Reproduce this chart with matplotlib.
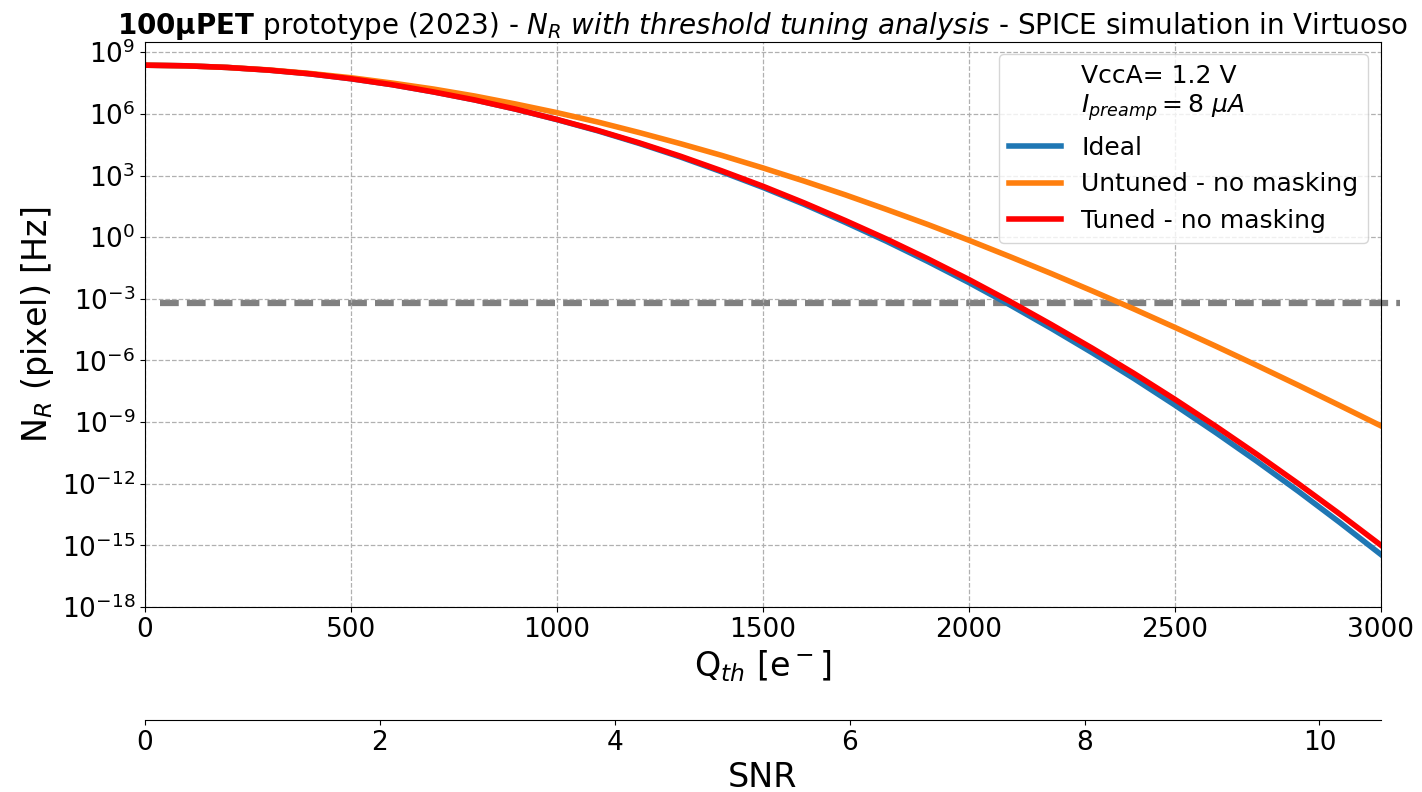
import numpy as np
import matplotlib
matplotlib.use("Agg")
import matplotlib.pyplot as plt

# Threshold charge [e-]
q_th = [0, 100, 200, 300, 400, 500, 600, 700, 800, 900, 1000, 1100, 1200, 1300,
        1400, 1500, 1600, 1700, 1800, 1900, 2000, 2100, 2200, 2300, 2400, 2500,
        2600, 2700, 2800, 2900, 3000]

# log10 of noise rate [Hz]
ideal_log10 = [8.37, 8.34, 8.26, 8.13, 7.95, 7.71, 7.42, 7.07, 6.68, 6.23, 5.72,
               5.17, 4.56, 3.90, 3.18, 2.42, 1.60, 0.72, -0.20, -1.18, -2.21,
               -3.30, -4.44, -5.63, -6.87, -8.17, -9.52, -10.92, -12.37, -13.88, -15.44]
untuned_log10 = [8.37, 8.34, 8.26, 8.14, 7.97, 7.76, 7.50, 7.21, 6.87, 6.48, 6.06,
                 5.60, 5.09, 4.55, 3.98, 3.37, 2.73, 2.06, 1.35, 0.62, -0.15,
                 -0.95, -1.77, -2.62, -3.49, -4.39, -5.31, -6.25, -7.21, -8.19, -9.18]
tuned_log10 = [8.37, 8.34, 8.26, 8.13, 7.95, 7.71, 7.42, 7.07, 6.68, 6.23, 5.73,
               5.19, 4.59, 3.94, 3.23, 2.48, 1.67, 0.81, -0.09, -1.05, -2.06,
               -3.13, -4.25, -5.41, -6.62, -7.89, -9.21, -10.58, -12.00, -13.47, -14.99]

threshold_rate = 6e-4      # Hz, dashed reference line
threshold_span = [36, 3046]
noise_enc = 285.1          # e-, for SNR axis

series_labels = ["Ideal", "Untuned - no masking", "Tuned - no masking"]
series_colors = ["#1f77b4", "#ff7f0e", "#ff0000"]
info_label = "VccA= 1.2 V\n" + r"$I_{preamp} = 8\ \mu A$"

fig = plt.figure(figsize=(14.22, 7.92), dpi=100)
ax = fig.add_axes([0.102, 0.2336, 0.869, 0.7134])

q = np.array(q_th)
ax.plot([], [], ' ', label=info_label)
for vals, lab, col in zip([ideal_log10, untuned_log10, tuned_log10], series_labels, series_colors):
    ax.plot(q, 10.0 ** np.array(vals), color=col, lw=4, label=lab)

ax.plot(threshold_span, [threshold_rate, threshold_rate], color="gray", lw=4.5,
        ls=(0, (3.0, 1.3)), clip_on=False, zorder=1)

ax.set_yscale("log")
ax.set_xlim(0, 3000)
ax.set_ylim(1e-18, 10 ** 9.5)
ax.set_yticks([10.0 ** e for e in range(-18, 10, 3)])
ax.yaxis.set_minor_locator(matplotlib.ticker.NullLocator())
ax.set_xticks([0, 500, 1000, 1500, 2000, 2500, 3000])
ax.tick_params(labelsize=19)
ax.grid(True, which="major", ls="--", color="#b0b0b0", lw=0.9)

ax.set_xlabel(r"Q$_{th}$ [e$^-$]", fontsize=24)
ax.set_ylabel(r"N$_R$ (pixel) [Hz]", fontsize=24)
ax.set_title(r"$\bf{100µPET}$ prototype (2023) - $N_R$ $\it{with\ threshold\ tuning\ analysis}$ - SPICE simulation in Virtuoso",
             fontsize=20, pad=5)

leg = ax.legend(loc="upper right", fontsize=18, handlelength=2.1)

sec = ax.secondary_xaxis(-0.2, functions=(lambda x: x / noise_enc, lambda s: s * noise_enc))
sec.set_xticks([0, 2, 4, 6, 8, 10])
sec.tick_params(labelsize=19)
sec.set_xlabel("SNR", fontsize=24)

fig.savefig("out.png", dpi=100)
